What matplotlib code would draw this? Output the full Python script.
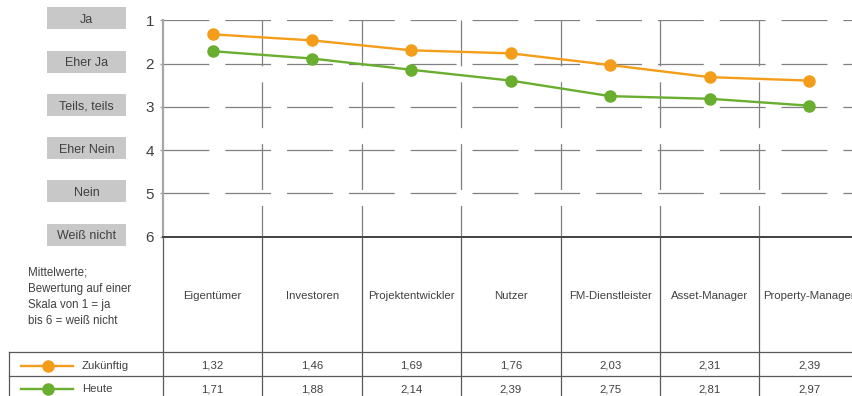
import numpy as np
import matplotlib.pyplot as plt
from matplotlib.patches import Rectangle

plt.rcParams['font.family'] = ['Liberation Sans', 'DejaVu Sans']
plt.rcParams['lines.scale_dashes'] = False

categories = ['Eigentümer', 'Investoren', 'Projektentwickler', 'Nutzer',
              'FM-Dienstleister', 'Asset-Manager', 'Property-Manager']
zukuenftig = [1.32, 1.46, 1.69, 1.76, 2.03, 2.31, 2.39]
heute = [1.71, 1.88, 2.14, 2.39, 2.75, 2.81, 2.97]
series_names = ['Zukünftig', 'Heute']
scale_labels = ['Ja', 'Eher Ja', 'Teils, teils', 'Eher Nein', 'Nein', 'Weiß nicht']
note = 'Mittelwerte;\nBewertung auf einer\nSkala von 1 = ja\nbis 6 = weiß nicht'

ORANGE = '#f49d1a'
GREEN = '#6aae2f'
GRID = '#808080'
LINE = '#595959'
TEXT = '#404040'

W, H = 853, 396
fig = plt.figure(figsize=(W / 100, H / 100), dpi=100)

# layout in pixels
x0, col_w = 163, 99.4
y_top, y_bot = 20.5, 236.7
tab_bot = 400
px = lambda p: (p - x0) / col_w  # pixel x -> column units

ax = fig.add_axes([x0 / W, 1 - y_bot / H, 7 * col_w / W, (y_bot - y_top) / H])
xs = np.arange(len(categories)) + 0.5
series = [zukuenftig, heute]
colors = [ORANGE, GREEN]

dash = (33, 11.5)
for y in range(1, 6):
    ax.plot([0, 7], [y, y], color=GRID, lw=0.9, dashes=dash, zorder=1)
for c in range(1, 7):
    ax.plot([c, c], [1, 6], color=GRID, lw=0.9, dashes=dash, zorder=1)

for vals, col in zip(series, colors):
    ax.plot(xs, vals, color=col, lw=1.7, marker='o', ms=8, zorder=3)

ax.set_xlim(0, 7)
ax.set_ylim(6, 1)
ax.set_xticks([])
ax.set_yticks(range(1, 7))
ax.tick_params(axis='y', length=2.5, width=1, color='#a0a0a0', pad=4,
               labelsize=11, labelcolor=TEXT)
for s in ['top', 'right']:
    ax.spines[s].set_visible(False)
ax.spines['left'].set_color('#a6a6a6')
ax.spines['left'].set_linewidth(1.6)
ax.spines['bottom'].set_color('#404040')
ax.spines['bottom'].set_linewidth(1.4)

# grey label boxes next to the scale
for i, lab in enumerate(scale_labels):
    yc = i + 1 - 0.05
    ax.add_patch(Rectangle((px(47), yc - 0.255), px(126) - px(47), 0.51,
                           facecolor='#c8c8c8', edgecolor='none', clip_on=False))
    ax.text(px(86.5), yc + 0.04, lab, ha='center', va='center', fontsize=9,
            color=TEXT, clip_on=False)

# data table below the chart
tb = fig.add_axes([x0 / W, 1 - tab_bot / H, 7 * col_w / W, (tab_bot - y_bot) / H])
tb.set_xlim(0, 7)
tb.set_ylim(tab_bot - y_bot, 0)
tb.axis('off')

head_h = 352 - y_bot
row1 = 376 - y_bot
for c in range(7):
    tb.plot([c, c], [0, tab_bot - y_bot], color=LINE, lw=0.9, clip_on=False)
for y in [head_h, row1]:
    tb.plot([px(9), 7], [y, y], color=LINE, lw=0.9, clip_on=False)
tb.plot([px(9), px(9)], [head_h, tab_bot - y_bot], color=LINE, lw=0.9, clip_on=False)

tb.text(px(28), 297 - y_bot, note, ha='left', va='center', fontsize=8.3,
        color=TEXT, linespacing=1.45)

for c, name in enumerate(categories):
    tb.text(c + 0.5, 296 - y_bot, name, ha='center', va='center', fontsize=8.2,
            color=TEXT, clip_on=False)

row_y = [366 - y_bot, 389 - y_bot]
for vals, col, name, ry in zip(series, colors, series_names, row_y):
    tb.plot([px(21), px(47.5), px(73)], [ry, ry, ry], color=col, lw=1.7,
            marker='o', ms=8, markevery=[1], clip_on=False)
    tb.text(px(82), ry, name, ha='left', va='center', fontsize=8.2, color=TEXT)
    for c, v in enumerate(vals):
        tb.text(c + 0.5, ry, f'{v:.2f}'.replace('.', ','), ha='center',
                va='center', fontsize=8.2, color=TEXT, clip_on=False)

fig.savefig('out.png', dpi=100)
